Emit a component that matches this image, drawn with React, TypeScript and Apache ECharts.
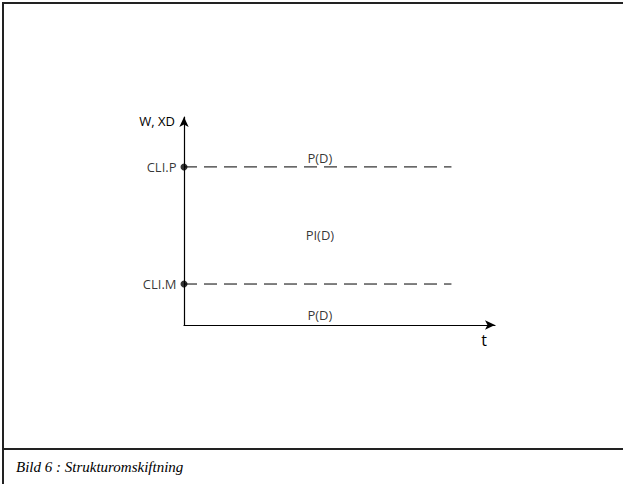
import React, { useEffect, useRef } from "react";
import * as echarts from "echarts";

const levelNames = ["CLI.P", "CLI.M"];
const levelValues = [76, 19.7];
const dashEnd = 86;
const regionLabels = ["P(D)", "PI(D)", "P(D)"];
const regionY = [80.3, 43.3, 4.8];
const regionX = [43.7, 43.7, 43.7];
const yAxisName = "W, XD";
const xAxisName = "t";
const caption = "Bild 6 : Strukturomskiftning";

const FONT = "'Open Sans', 'Noto Sans', sans-serif";

export default function App() {
  const ref = useRef<HTMLDivElement>(null);
  useEffect(() => {
    if (!ref.current) return;
    const chart = echarts.init(ref.current, undefined, { renderer: "svg" });
    const dashSeries = levelValues.map((v, i) => ({
      type: "line",
      name: levelNames[i],
      data: [
        [0, v],
        [dashEnd, v],
      ],
      symbol: "none",
      silent: true,
      lineStyle: { color: "#000", width: 1, type: [13, 7] },
      z: 2,
    }));
    chart.setOption({
      animation: false,
      backgroundColor: "#fff",
      title: {
        text: caption,
        left: 11,
        top: 454,
        textStyle: {
          fontFamily: "'Liberation Serif', 'DejaVu Serif', serif",
          fontStyle: "italic",
          fontWeight: "normal",
          fontSize: 15,
          color: "#000",
        },
      },
      grid: { left: 184, top: 117, width: 311, height: 208 },
      xAxis: {
        type: "value",
        min: 0,
        max: 100,
        axisLine: {
          show: true,
          onZero: false,
          symbol: ["none", "arrow"],
          symbolSize: [7, 10],
          lineStyle: { color: "#000", width: 1.2 },
        },
        axisTick: { show: false },
        axisLabel: { show: false },
        splitLine: { show: false },
        name: xAxisName,
        nameLocation: "end",
        nameGap: -11,
        nameTextStyle: {
          fontFamily: FONT,
          fontSize: 16,
          color: "#000",
          align: "center",
          verticalAlign: "top",
          padding: [7, 0, 0, 0],
        },
      },
      yAxis: {
        type: "value",
        min: 0,
        max: 100,
        axisLine: {
          show: true,
          onZero: false,
          symbol: ["none", "arrow"],
          symbolSize: [7, 10],
          lineStyle: { color: "#000", width: 1.2 },
        },
        axisTick: { show: false },
        axisLabel: { show: false },
        splitLine: { show: false },
        name: yAxisName,
        nameLocation: "end",
        nameGap: -4,
        nameTextStyle: {
          fontFamily: FONT,
          fontSize: 13,
          color: "#000",
          align: "right",
          verticalAlign: "middle",
          padding: [0, 9, 0, 0],
        },
      },
      series: [
        ...dashSeries,
        {
          type: "scatter",
          data: levelValues.map((v, i) => ({ value: [0, v], name: levelNames[i] })),
          symbol: "circle",
          symbolSize: 7,
          itemStyle: { color: "#000" },
          silent: true,
          z: 3,
          label: {
            show: true,
            position: "left",
            distance: 4,
            formatter: (p: any) => p.name,
            fontFamily: FONT,
            fontSize: 13,
            color: "#000",
          },
        },
        {
          type: "scatter",
          data: regionLabels.map((t, i) => ({ value: [regionX[i], regionY[i]], name: t })),
          symbol: "circle",
          symbolSize: 1,
          itemStyle: { color: "rgba(0,0,0,0)" },
          silent: true,
          z: 4,
          label: {
            show: true,
            position: "inside",
            formatter: (p: any) => p.name,
            fontFamily: FONT,
            fontSize: 13,
            color: "#000",
          },
        },
      ],
      graphic: [
        { type: "line", shape: { x1: 2, y1: 3, x2: 623, y2: 3 }, style: { stroke: "#222", lineWidth: 2 } },
        { type: "line", shape: { x1: 3, y1: 2, x2: 3, y2: 484 }, style: { stroke: "#222", lineWidth: 2 } },
        { type: "line", shape: { x1: 3, y1: 449, x2: 623, y2: 449 }, style: { stroke: "#222", lineWidth: 2 } },
      ],
    });
    return () => chart.dispose();
  }, []);
  return (
    <div
      ref={ref}
      style={{ position: "fixed", left: 0, top: 0, width: 623, height: 484, background: "#fff" }}
    />
  );
}
